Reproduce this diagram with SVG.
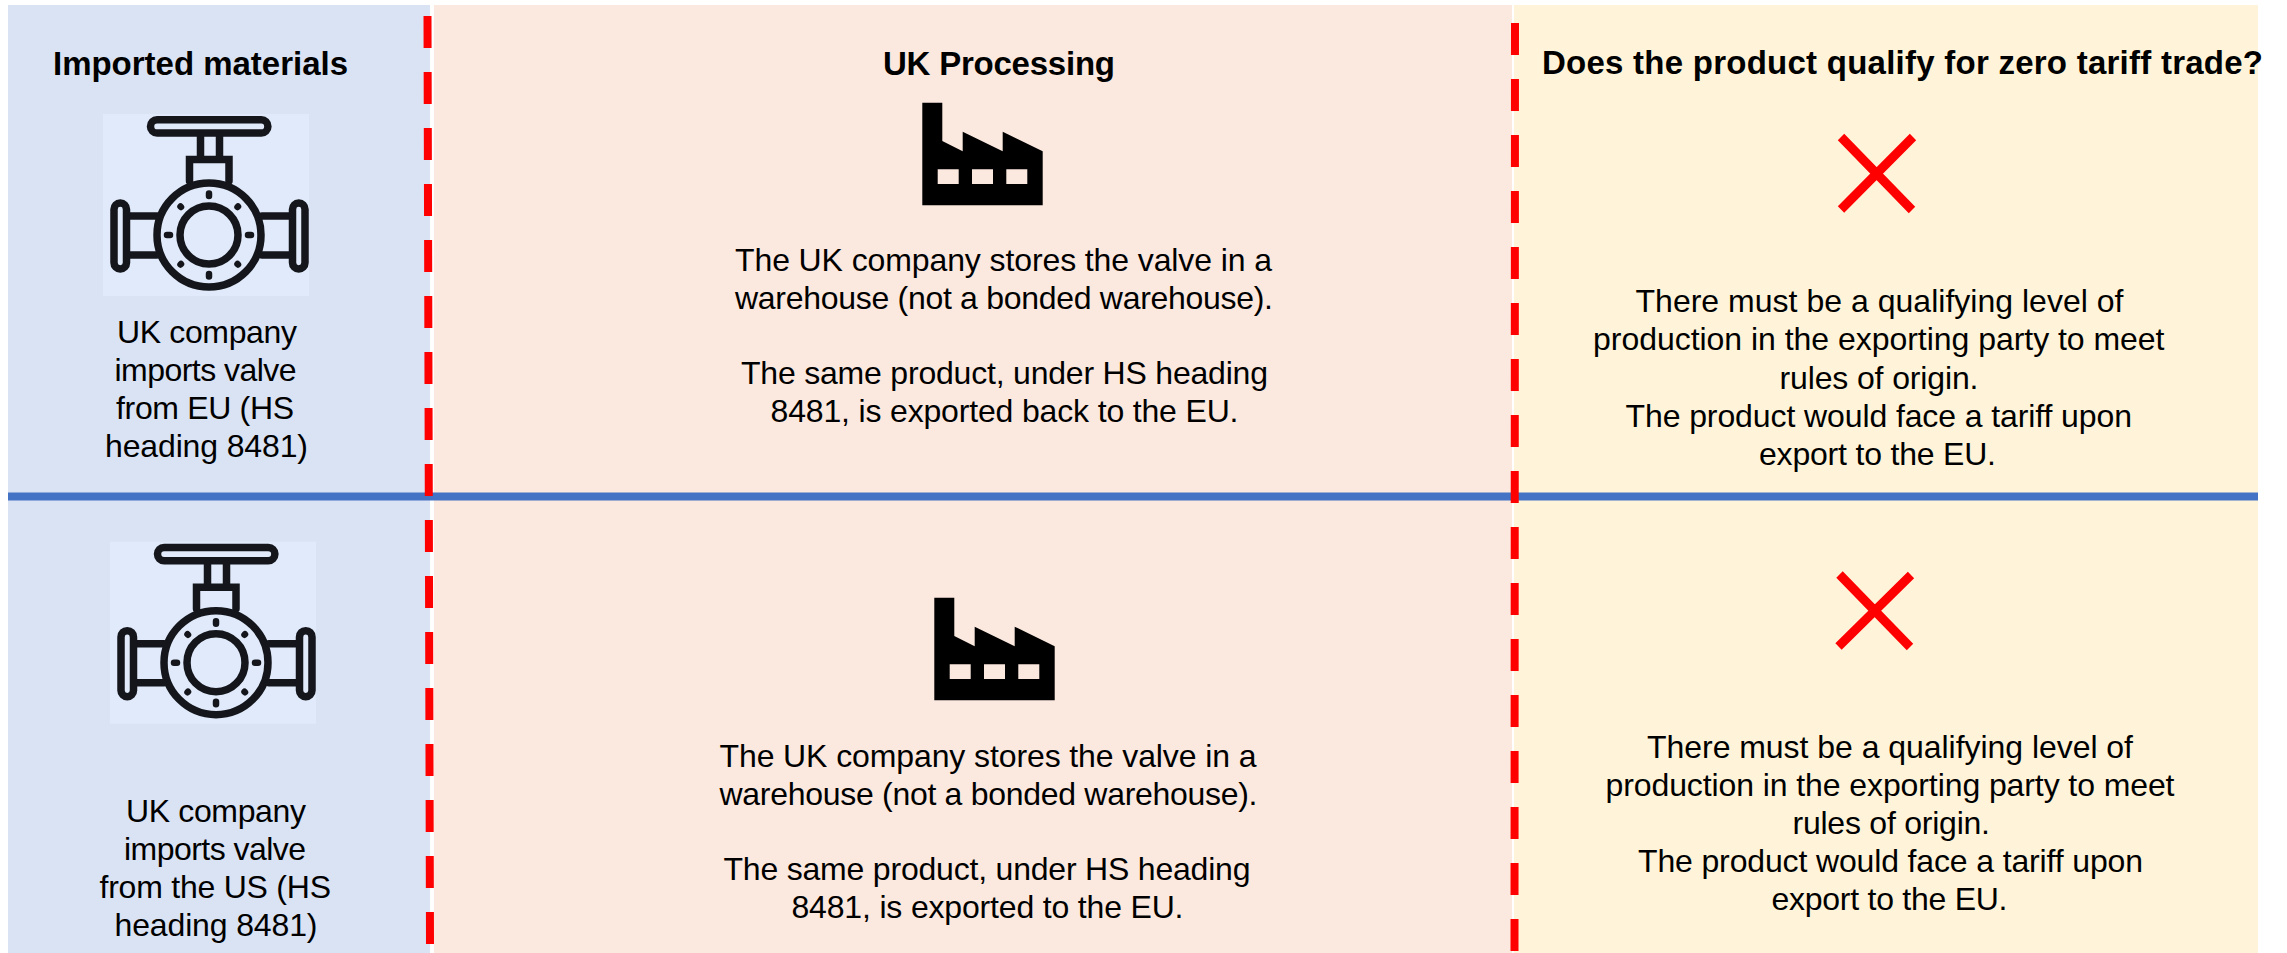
<svg xmlns="http://www.w3.org/2000/svg" xmlns:xlink="http://www.w3.org/1999/xlink" width="2287" height="953" viewBox="0 0 2287 953">
<style>
text{font-family:"Liberation Sans",Arial,sans-serif;font-size:32px;fill:#000}
.h{font-weight:700;font-size:33px}
.dash{stroke:#f00;stroke-width:8;stroke-dasharray:32 24;fill:none}
.x{stroke:#f00;stroke-width:9;fill:none}
.v{fill:none;stroke:#14161c;stroke-width:7.500;stroke-linecap:round}
.b{fill:none;stroke:#14161c;stroke-width:6.500;stroke-linecap:round}
</style>
<defs>
<g id="valve">
<rect x="103" y="114" width="206" height="182" fill="#e0eafa"/>
<rect class="v" x="150.500" y="119.800" width="117.400" height="13.200" rx="6.600"/>
<path class="v" d="M200.500 136V158M219.500 136V158M189.500 181V159.500H229V181"/>
<circle class="v" cx="209" cy="235" r="52"/>
<circle class="v" cx="209" cy="235" r="29"/>
<path class="v" d="M128 216H157M128 255H157M262 216H292M262 255H292"/>
<rect class="v" x="114" y="203" width="12.500" height="66" rx="6.200"/>
<rect class="v" x="292.500" y="203" width="12.500" height="66" rx="6.200"/>
<path class="b" d="M209 193.500V196M209 274V276.500M167 235H170M248 235H251M180.500 206.500L181 207M238 206.500L237.500 207M180.500 264.500L181 264M238 264.500L237.500 264"/>
</g>
<g id="factory">
<path fill="#000" fill-rule="evenodd" d="M922.300 102.700H942.300V141L962.700 151.300V131.700L1002.700 151.300V131.700L1042.700 151.300V205.300H922.300ZM937.700 169.300V184H958.700V169.300ZM972 169.300V184H993V169.300ZM1006.300 169.300V184H1027.300V169.300Z"/>
</g>
</defs>
<g id="panel-materials"><rect x="8" y="5" width="422" height="948" fill="#dae3f3"/></g>
<g id="panel-processing"><rect x="434" y="5" width="1078" height="948" fill="#fbe9df"/></g>
<g id="panel-qualify"><rect x="1514" y="5" width="744" height="948" fill="#fff4d9"/></g>

<g id="head-materials"><text class="h" x="53" y="75" textLength="295">Imported materials</text></g>
<g id="head-processing"><text class="h" x="883" y="75" textLength="232">UK Processing</text></g>
<g id="head-qualify"><text class="h" x="1542" y="74" textLength="721">Does the product qualify for zero tariff trade?</text></g>

<g id="row1-import">
<use xlink:href="#valve" href="#valve"/>
<text x="117" y="343" textLength="180">UK company</text>
<text x="114.500" y="381" textLength="182">imports valve</text>
<text x="116" y="419" textLength="178">from EU (HS</text>
<text x="105" y="457" textLength="203">heading 8481)</text>
</g>
<g id="row1-processing">
<use xlink:href="#factory" href="#factory"/>
<text x="735" y="270.500" textLength="537">The UK company stores the valve in a</text>
<text x="735" y="308.500" textLength="538">warehouse (not a bonded warehouse).</text>
<text x="741" y="384" textLength="527">The same product, under HS heading</text>
<text x="770.500" y="422" textLength="468">8481, is exported back to the EU.</text>
</g>
<g id="row1-result">
<path class="x" d="M1841 137L1912 210M1913 137L1841 209.500"/>
<text x="1635.500" y="311.500" textLength="488">There must be a qualifying level of</text>
<text x="1593" y="350" textLength="571.500">production in the exporting party to meet</text>
<text x="1779.500" y="389" textLength="199">rules of origin.</text>
<text x="1625.500" y="427" textLength="506.500">The product would face a tariff upon</text>
<text x="1759" y="465" textLength="237">export to the EU.</text>
</g>

<g id="row2-import">
<use xlink:href="#valve" href="#valve" transform="translate(7 427.700)"/>
<text x="126" y="822" textLength="180">UK company</text>
<text x="124" y="860" textLength="182">imports valve</text>
<text x="99.500" y="898" textLength="231.500">from the US (HS</text>
<text x="114.500" y="936" textLength="203">heading 8481)</text>
</g>
<g id="row2-processing">
<use xlink:href="#factory" href="#factory" transform="translate(12 495)"/>
<text x="719.500" y="766.500" textLength="537">The UK company stores the valve in a</text>
<text x="719.500" y="804.500" textLength="538">warehouse (not a bonded warehouse).</text>
<text x="723.500" y="880" textLength="527">The same product, under HS heading</text>
<text x="791.500" y="918" textLength="392">8481, is exported to the EU.</text>
</g>
<g id="row2-result">
<path class="x" d="M1839.500 574.500L1910 647M1911 575L1838.500 646.500"/>
<text x="1647" y="757.500" textLength="486">There must be a qualifying level of</text>
<text x="1605.500" y="795.500" textLength="569">production in the exporting party to meet</text>
<text x="1792.500" y="833.500" textLength="197.500">rules of origin.</text>
<text x="1638" y="871.500" textLength="505">The product would face a tariff upon</text>
<text x="1771.500" y="909.500" textLength="236">export to the EU.</text>
</g>

<g id="connectors">
<line x1="8" y1="496.500" x2="2258" y2="496.500" stroke="#4472c4" stroke-width="8"/>
<line class="dash" x1="427.500" y1="16" x2="430" y2="944"/>
<line class="dash" x1="1515" y1="23" x2="1514.500" y2="951"/>
</g>
</svg>
